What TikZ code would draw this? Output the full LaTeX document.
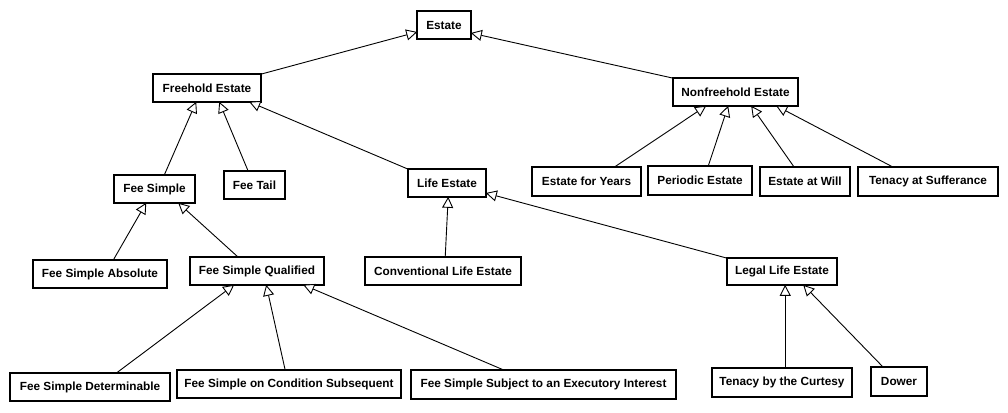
\documentclass[tikz,border=0pt]{standalone}
\usepackage{fontspec}
\setmainfont{Liberation Sans}
\usetikzlibrary{arrows.meta}
\begin{document}
\begin{tikzpicture}[x=1pt,y=-1pt,
  box/.style={draw=black, line width=2.4pt, fill=white, inner sep=0pt, outer sep=0pt,
    font=\fontsize{11.8}{14}\selectfont\bfseries},
  gen/.style={draw=black, line width=0.9pt,
    -{Triangle[open, length=11pt, width=11pt, line width=0.9pt, fill=white]}}
]
\useasboundingbox[fill=white] (0,0) rectangle (1008,412);
% nodes
\node[box, minimum width=53.6pt, minimum height=27.6pt] (estate) at (444,25) {Estate};
\node[box, minimum width=107.6pt, minimum height=27.6pt] (free) at (207,88) {Freehold Estate};
\node[box, minimum width=124.6pt, minimum height=27.6pt] (nonfree) at (735.5,92) {Nonfreehold Estate};
\node[box, minimum width=80.6pt, minimum height=27.6pt] (fs) at (154.5,189) {Fee Simple};
\node[box, minimum width=60.6pt, minimum height=27.6pt] (ft) at (254.5,185) {Fee Tail};
\node[box, minimum width=77.6pt, minimum height=27.6pt] (life) at (447,183) {Life Estate};
\node[box, minimum width=133.6pt, minimum height=27.6pt] (fsa) at (100,274) {Fee Simple Absolute};
\node[box, minimum width=133.6pt, minimum height=27.6pt] (fsq) at (257,271) {Fee Simple Qualified};
\node[box, minimum width=155.6pt, minimum height=27.6pt] (cle) at (443,271) {Conventional Life Estate};
\node[box, minimum width=109.6pt, minimum height=26.6pt] (lle) at (782,271.5) {Legal Life Estate};
\node[box, minimum width=159.6pt, minimum height=27.6pt] (fsd) at (90,387) {Fee Simple Determinable};
\node[box, minimum width=223.6pt, minimum height=27.6pt] (fscs) at (289,384) {Fee Simple on Condition Subsequent};
\node[box, minimum width=264.6pt, minimum height=28.6pt] (fssei) at (543.5,384.5) {Fee Simple Subject to an Executory Interest};
\node[box, minimum width=139.6pt, minimum height=28.6pt] (tbc) at (782,382.5) {Tenacy by the Curtesy};
\node[box, minimum width=55.6pt, minimum height=28.6pt] (dower) at (899,381.5) {Dower};
\node[box, minimum width=108.6pt, minimum height=28.6pt] (efy) at (586.5,181.5) {Estate for Years};
\node[box, minimum width=103.6pt, minimum height=28.6pt] (pe) at (700,180.5) {Periodic Estate};
\node[box, minimum width=89.6pt, minimum height=28.6pt] (eaw) at (805,181.5) {Estate at Will};
\node[box, minimum width=139.6pt, minimum height=28.6pt] (tas) at (928,181.5) {Tenacy at Sufferance};
% connectors
\draw[gen] (free.north east) -- ([yshift=-7pt]estate.west);
\draw[gen] (nonfree.north west) -- ([yshift=-8pt]estate.east);
\draw[gen] ([xshift=50pt]fs.north west) -- ([xshift=43pt]free.south west);
\draw[gen] ([xshift=24pt]ft.north west) -- ([xshift=66pt]free.south west);
\draw[gen] (life.north west) -- ([xshift=96pt]free.south west);
\draw[gen] ([xshift=80pt]fsa.north west) -- ([xshift=32pt]fs.south west);
\draw[gen] ([xshift=48pt]fsq.north west) -- ([xshift=64pt]fs.south west);
\draw[gen] ([xshift=106pt]fsd.north west) -- ([xshift=44pt]fsq.south west);
\draw[gen] ([xshift=108pt]fscs.north west) -- ([xshift=76pt]fsq.south west);
\draw[gen] ([xshift=93pt]fssei.north west) -- ([xshift=113pt]fsq.south west);
\draw[gen] ([xshift=80pt]cle.north west) -- ([xshift=40pt]life.south west);
\draw[gen] (lle.north west) -- ([yshift=-10pt]life.east);
\draw[gen] ([xshift=73pt]tbc.north west) -- ([xshift=58pt]lle.south west);
\draw[gen] ([xshift=12pt]dower.north west) -- ([xshift=76pt]lle.south west);
\draw[gen] ([xshift=82pt]efy.north west) -- ([xshift=33pt]nonfree.south west);
\draw[gen] ([xshift=60pt]pe.north west) -- ([xshift=55pt]nonfree.south west);
\draw[gen] ([xshift=34pt]eaw.north west) -- ([xshift=78pt]nonfree.south west);
\draw[gen] ([xshift=35pt]tas.north west) -- ([xshift=103pt]nonfree.south west);
\end{tikzpicture}
\end{document}
